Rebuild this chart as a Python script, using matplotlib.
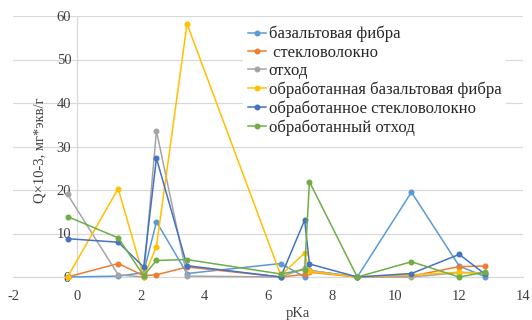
import matplotlib
matplotlib.use("Agg")
import matplotlib.pyplot as plt

plt.rcParams['font.family'] = ['Liberation Serif', 'DejaVu Serif']

pka = [-0.29, 1.3, 2.1, 2.5, 3.46, 6.4, 7.15, 7.3, 8.8, 10.5, 12.0, 12.8]

basalt = [0.0, 0.2, 1.0, 12.7, 0.8, 3.1, 0.0, 1.5, 0.0, 19.5, 2.5, 0.1]
glass = [0.0, 3.1, 0.3, 0.5, 2.3, 0.0, 0.6, 1.1, 0.0, 0.2, 2.4, 2.5]
waste = [19.0, 0.5, 0.0, 33.6, 0.2, 0.0, 2.0, 1.5, 0.0, 0.0, 1.0, 1.0]
basalt_treated = [0.0, 20.3, 0.0, 7.0, 58.2, 0.4, 5.5, 1.3, 0.0, 0.5, 1.1, 0.8]
glass_treated = [8.8, 8.0, 2.3, 27.3, 2.6, 0.0, 13.1, 3.0, 0.0, 0.8, 5.2, 0.7]
waste_treated = [13.9, 9.0, 0.3, 3.8, 4.0, 0.7, 1.7, 21.9, 0.0, 3.5, 0.0, 1.1]

series = [
    ("базальтовая фибра", basalt, "#5B9BD5"),
    (" стекловолокно", glass, "#ED7D31"),
    ("отход", waste, "#A5A5A5"),
    ("обработанная базальтовая фибра", basalt_treated, "#FFC000"),
    ("обработанное стекловолокно", glass_treated, "#4472C4"),
    ("обработанный отход", waste_treated, "#70AD47"),
]

x_ticks = [-2, 0, 2, 4, 6, 8, 10, 12, 14]
y_ticks = [0, 10, 20, 30, 40, 50, 60]

fig = plt.figure(figsize=(5.32, 3.2), dpi=100)
ax = fig.add_axes([13 / 532, 1 - 277 / 320, 510 / 532, 261 / 320])

for name, vals, color in series:
    ax.plot(pka, vals, color=color, lw=1.1, marker='o', ms=3.3,
            label=name, zorder=3, clip_on=False)

ax.set_xlim(-2, 14)
ax.set_ylim(0, 60)
ax.set_xticks(x_ticks)
ax.set_yticks(y_ticks)
ax.set_xticklabels([str(t) for t in x_ticks])
ax.set_yticklabels([str(t) for t in y_ticks])

ax.grid(axis='y', color='#D9D9D9', lw=0.9, zorder=0)
for s in ['top', 'right']:
    ax.spines[s].set_visible(False)
ax.spines['left'].set_position(('data', 0))
ax.spines['left'].set_color('#D9D9D9')
ax.spines['bottom'].set_color('#D9D9D9')
ax.spines['left'].set_linewidth(0.9)
ax.spines['bottom'].set_linewidth(0.9)
ax.tick_params(length=0, labelsize=10.5, colors='#404040', labelcolor='#404040')
ax.tick_params(axis='y', pad=4)
ax.tick_params(axis='x', pad=9)

fig.text(40 / 532, 1 - 150 / 320, "Q×10-3, мг*экв/г", rotation=90,
         ha='center', va='center', fontsize=10.5, color='#404040')
fig.text(298 / 532, 1 - 313 / 320, "pKa", ha='center', va='center',
         fontsize=10.5, color='#404040')

leg = ax.legend(loc='upper left', bbox_to_anchor=(243 / 532, 1 - 21 / 320),
                bbox_transform=fig.transFigure, frameon=True, fontsize=12,
                handlelength=1.1, handletextpad=0.15, labelspacing=0.14,
                borderpad=0.3, borderaxespad=0)
leg.get_frame().set_facecolor('white')
leg.get_frame().set_edgecolor('none')
leg.get_frame().set_alpha(1.0)
leg.set_zorder(5)
for t in leg.get_texts():
    t.set_color('#262626')

fig.savefig("out.png", dpi=100)
